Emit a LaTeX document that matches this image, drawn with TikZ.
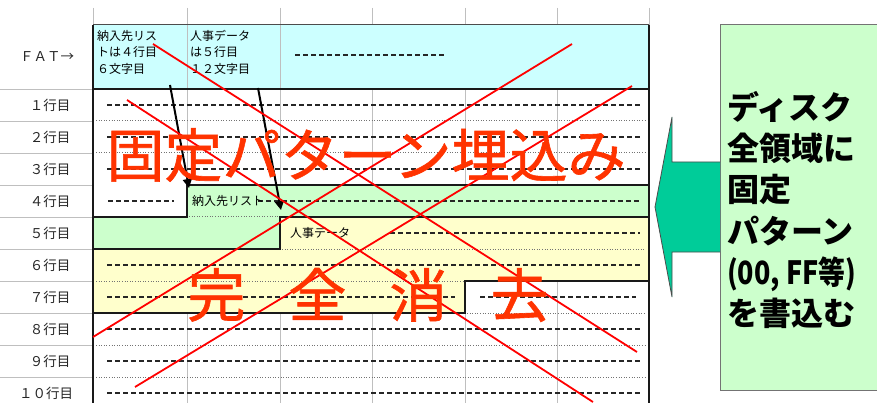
\documentclass[tikz,border=0pt]{standalone}
\usepackage{fontspec}
\usepackage{graphicx}
\newfontfamily\jp{Noto Sans CJK JP}
\newfontfamily\jpm[FakeBold=1]{Noto Sans CJK JP}
\usetikzlibrary{arrows.meta}
\definecolor{hdrc}{HTML}{CCFFFF}
\definecolor{grnc}{HTML}{CCFFCC}
\definecolor{ylwc}{HTML}{FFFFCC}
\definecolor{redtxt}{HTML}{FF3300}
\definecolor{arrc}{HTML}{00CC99}
\tikzset{
  grid/.style={draw=black!25, line width=0.9pt},
  dashrow/.style={draw=black!85, line width=1.2pt, dash pattern=on 4.5pt off 3.5pt},
  dotrow/.style={draw=black!55, line width=1pt, dash pattern=on 1pt off 1.6pt},
  thick line/.style={draw=black!90, line width=2.2pt},
  xline/.style={draw=red, line width=1.8pt},
  small/.style={font=\jp\fontsize{12}{16.5}\selectfont, inner sep=0pt, align=left},
  rowlbl/.style={font=\jp\fontsize{13.5}{15}\selectfont, inner sep=0pt, text=black!85},
  bigred/.style={font=\jpm\fontsize{58}{62}\selectfont, text=redtxt, inner sep=0pt},
  pointer/.style={draw=black, line width=2pt, -{Triangle[length=9pt,width=9pt]}},
}
\begin{document}
\begin{tikzpicture}[x=1pt,y=-1pt]
\useasboundingbox (0,0) rectangle (877,403);
\clip (0,0) rectangle (877,403);
\fill[white] (0,0) rectangle (877,403);

% fills
\fill[hdrc] (93,25) rectangle (649,89);
\fill[grnc] (187,185) -- (649,185) -- (649,217) -- (280,217) -- (280,249) -- (93,249) -- (93,217) -- (187,217) -- cycle;
\fill[ylwc] (280,217) -- (649,217) -- (649,281) -- (465,281) -- (465,313) -- (93,313) -- (93,249) -- (280,249) -- cycle;

% grid lines
\foreach \x in {93,187,280,372,465,557,649} \draw[grid] (\x,8) -- (\x,25);
\foreach \x in {187,280} \draw[grid] (\x,25) -- (\x,89);
\foreach \x in {187,280,372,465,557} \draw[grid] (\x,89) -- (\x,185);
\foreach \x in {187,280,372,465,557} \draw[grid] (\x,313) -- (\x,403);
\draw[grid] (557,281) -- (557,313);
\foreach \y in {89,121,153,185,217,249,281,313,345,377} \draw[grid] (0,\y) -- (93,\y);

% dotted row boundaries
\foreach \y in {121,153,345,377} \draw[dotrow] (96,\y) -- (646,\y);
\draw[dotrow] (189,217) -- (278,217);
\draw[dotrow] (282,249) -- (646,249);
\draw[dotrow] (96,281) -- (463,281);
\draw[dotrow] (467,313) -- (646,313);

% dashed row middles
\foreach \y in {105,137,169,265,329,361,393} \draw[dashrow] (107,\y) -- (640,\y);
\draw[dashrow] (108,201) -- (174,201);
\draw[dashrow] (258,201) -- (640,201);
\draw[dashrow] (390,233) -- (640,233);
\draw[dashrow] (107,297) -- (455,297);
\draw[dashrow] (480,297) -- (636,297);
\draw[dashrow] (295,55) -- (447,55);

% borders
\draw[draw=black!70, line width=1pt] (93,25) -- (649,25);
\draw[thick line] (93,89) -- (649,89);
\draw[thick line] (93,25) -- (93,403);
\draw[thick line] (649,25) -- (649,403);
\draw[thick line] (93,217) -- (187,217) -- (187,185) -- (649,185);
\draw[thick line] (649,217) -- (280,217) -- (280,249) -- (93,249);
\draw[thick line] (649,281) -- (465,281) -- (465,313) -- (93,313);

% header texts
\node[small, anchor=north west] (h1) at (97,30) {納入先リス\\トは４行目\\６文字目};
\node[small, anchor=north west] (h2) at (190,30) {人事データ\\は５行目\\１２文字目};

% row labels
\node[rowlbl] (fat) at (47,57) {ＦＡＴ→};
\node[rowlbl] (r1) at (50,105) {１行目};
\node[rowlbl] (r2) at (50,137) {２行目};
\node[rowlbl] (r3) at (50,169) {３行目};
\node[rowlbl] (r4) at (50,201) {４行目};
\node[rowlbl] (r5) at (50,233) {５行目};
\node[rowlbl] (r6) at (50,265) {６行目};
\node[rowlbl] (r7) at (50,297) {７行目};
\node[rowlbl] (r8) at (50,329) {８行目};
\node[rowlbl] (r9) at (50,361) {９行目};
\node[rowlbl] (r10) at (46,393) {１０行目};

% cell texts
\node[small, anchor=west] (c4) at (192,201) {納入先リスト};
\node[small, anchor=west] (c5) at (290,233) {人事データ};

% pointers
\coordinate (p1s) at (170,85);
\coordinate (p1e) at (189,188);
\coordinate (p2s) at (258,88);
\coordinate (p2e) at (281,210);
\draw[pointer] (p1s) -- (p1e);
\draw[pointer] (p2s) -- (p2e);

% red cross lines
\coordinate (a1) at (153,44); \coordinate (a2) at (637,352);
\coordinate (b1) at (127,100); \coordinate (b2) at (593,402);
\coordinate (c1) at (572,44); \coordinate (c2) at (93,337);
\coordinate (d1) at (632,86); \coordinate (d2) at (135,387);
\draw[xline] (a1) -- (a2);
\draw[xline] (b1) -- (b2);
\draw[xline] (c1) -- (c2);
\draw[xline] (d1) -- (d2);

% big red texts
\node[bigred] (t1) at (366,155) {固定パターン埋込み};
\node[bigred] (t2) at (368,295) {完\hspace{43pt}全\hspace{43pt}消\hspace{43pt}去};

% right panel
\draw[fill=grnc, draw=black!55, line width=1pt] (720,25) rectangle (900,390);
\node[font=\jp\bfseries\fontsize{32}{41.2}\selectfont, align=left, inner sep=0pt, anchor=west] (rt) at (727,210)
  {ディスク\\全領域に\\固定\\パターン\\\scalebox{0.84}[1]{(00, FF等)}\\を書込む};
\draw[fill=arrc, draw=black!70, line width=0.8pt]
  (720,162) -- (672,162) -- (672,117) -- (655,207) -- (672,297) -- (672,252) -- (720,252);
\end{tikzpicture}
\end{document}
